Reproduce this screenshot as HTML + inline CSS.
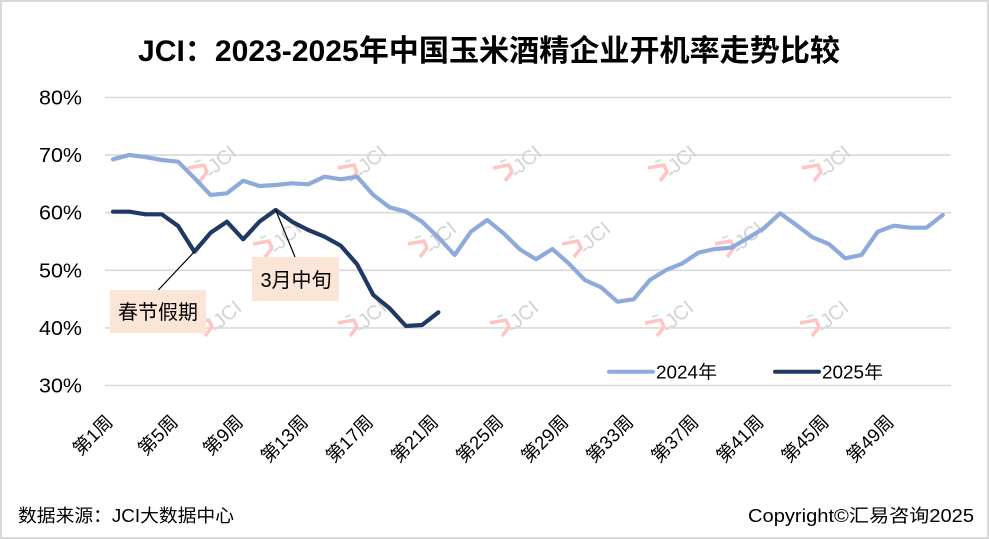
<!DOCTYPE html>
<html>
<head>
<meta charset="utf-8">
<style>
  html, body { margin: 0; padding: 0; background: #fff; }
  svg { display: block; }
  text { font-family: "Liberation Sans", "Noto Sans CJK SC", sans-serif; }
</style>
</head>
<body>
<svg width="989" height="539" viewBox="0 0 989 539" xmlns="http://www.w3.org/2000/svg">
  <rect x="0" y="0" width="989" height="539" fill="#ffffff"/>
  <rect x="1" y="1" width="987" height="537" fill="none" stroke="#d9d9d9" stroke-width="2"/>

  <!-- Title -->
  <text x="138" y="61" font-size="30" font-weight="bold" fill="#000" textLength="702" lengthAdjust="spacingAndGlyphs">JCI：2023-2025年中国玉米酒精企业开机率走势比较</text>

  <!-- Gridlines -->
  <g stroke="#d9d9d9" stroke-width="1.6">
    <line x1="105" y1="97.5" x2="951" y2="97.5"/>
    <line x1="105" y1="155.1" x2="951" y2="155.1"/>
    <line x1="105" y1="212.7" x2="951" y2="212.7"/>
    <line x1="105" y1="270.3" x2="951" y2="270.3"/>
    <line x1="105" y1="327.9" x2="951" y2="327.9"/>
    <line x1="105" y1="385.5" x2="951" y2="385.5"/>
  </g>

  <!-- Y labels -->
  <g font-size="20" fill="#000" text-anchor="end">
    <text x="82" y="104.5" textLength="43" lengthAdjust="spacingAndGlyphs">80%</text>
    <text x="82" y="162.1" textLength="43" lengthAdjust="spacingAndGlyphs">70%</text>
    <text x="82" y="219.7" textLength="43" lengthAdjust="spacingAndGlyphs">60%</text>
    <text x="82" y="277.3" textLength="43" lengthAdjust="spacingAndGlyphs">50%</text>
    <text x="82" y="334.9" textLength="43" lengthAdjust="spacingAndGlyphs">40%</text>
    <text x="82" y="392.5" textLength="43" lengthAdjust="spacingAndGlyphs">30%</text>
  </g>

  <!-- Watermarks -->
  <defs>
    <g id="wm">
      <path d="M0,6 L16,3 L19,10 L12,19" stroke="#ffc4c4" stroke-width="3.5" fill="none" stroke-linejoin="round"/>
      <line x1="7" y1="0" x2="13" y2="-2" stroke="#c8ead5" stroke-width="2"/>
      <line x1="21" y1="13" x2="25" y2="10" stroke="#d6d6d6" stroke-width="2"/>
      <text transform="translate(27,12) rotate(-40)" font-size="20" fill="#d3d3d3">JCI</text>
    </g>
  </defs>
  <g>
    <use href="#wm" x="188" y="162"/>
    <use href="#wm" x="338" y="162"/>
    <use href="#wm" x="493" y="162"/>
    <use href="#wm" x="648" y="162"/>
    <use href="#wm" x="802" y="162"/>
    <use href="#wm" x="253" y="238"/>
    <use href="#wm" x="408" y="238"/>
    <use href="#wm" x="562" y="238"/>
    <use href="#wm" x="715" y="238"/>
    <use href="#wm" x="193" y="317"/>
    <use href="#wm" x="338" y="317"/>
    <use href="#wm" x="490" y="317"/>
    <use href="#wm" x="645" y="317"/>
    <use href="#wm" x="800" y="317"/>
  </g>

  <!-- 2024 series -->
  <polyline fill="none" stroke="#8eaadb" stroke-width="4.2" stroke-linejoin="round" stroke-linecap="round"
    points="113,159.3 129.3,155 145.5,157 161.8,160 178.1,161.7 194.4,178 210.6,195 226.9,193.3 243.2,180.7 259.4,186 275.7,185 292,183.3 308.2,184.3 324.5,176.7 340.8,179.3 357.1,176.7 373.3,195 389.6,207.3 405.9,211.7 422.1,221.7 438.4,237.5 454.7,255 470.9,231.7 487.2,220 503.5,233.3 519.8,249.3 536,259.3 552.3,249 568.6,263.3 584.8,280 601.1,287.3 617.4,301.7 633.6,299.3 649.9,280 666.2,270 682.5,263.3 698.7,252.5 715,249 731.3,247.7 747.5,238.3 763.8,228.3 780.1,213.3 796.3,225 812.6,237.3 828.9,244 845.2,258.3 861.4,255 877.7,231.7 894,225.7 910.2,227.7 926.5,227.7 942.8,215"/>

  <!-- 2025 series -->
  <polyline fill="none" stroke="#203864" stroke-width="4.2" stroke-linejoin="round" stroke-linecap="round"
    points="113,211.7 129.3,211.7 145.5,214.3 161.8,214.3 178.1,226 194.4,251.7 210.6,232.7 226.9,221.7 243.2,239.3 259.4,221.7 275.7,210 292,221.7 308.2,230 324.5,236.7 340.8,245.7 357.1,264.3 373.3,295 389.6,308.3 405.9,326 422.1,325 438.4,312.3"/>

  <!-- Annotations -->
  <line x1="158.3" y1="290" x2="194.4" y2="251.7" stroke="#000" stroke-width="1.2"/>
  <line x1="295" y1="257" x2="275.7" y2="210" stroke="#000" stroke-width="1.2"/>
  <rect x="110" y="290" width="96" height="43" fill="#fbe5d6"/>
  <text x="158" y="319" font-size="20" fill="#000" text-anchor="middle">春节假期</text>
  <rect x="252" y="257" width="87" height="44" fill="#fbe5d6"/>
  <text x="296" y="287" font-size="20" fill="#000" text-anchor="middle">3月中旬</text>

  <!-- Legend -->
  <line x1="609" y1="371.7" x2="653" y2="371.7" stroke="#8eaadb" stroke-width="4" stroke-linecap="round"/>
  <text x="656" y="378.5" font-size="18" fill="#000" textLength="61" lengthAdjust="spacingAndGlyphs">2024年</text>
  <line x1="775" y1="371.7" x2="819" y2="371.7" stroke="#203864" stroke-width="4" stroke-linecap="round"/>
  <text x="822" y="378.5" font-size="18" fill="#000" textLength="61" lengthAdjust="spacingAndGlyphs">2025年</text>

  <!-- X labels -->
  <g font-size="18.5" fill="#000" text-anchor="end">
    <text transform="translate(114,423) rotate(-45)">第1周</text>
    <text transform="translate(179.1,423) rotate(-45)">第5周</text>
    <text transform="translate(244.2,423) rotate(-45)">第9周</text>
    <text transform="translate(309.2,423) rotate(-45)">第13周</text>
    <text transform="translate(374.3,423) rotate(-45)">第17周</text>
    <text transform="translate(439.4,423) rotate(-45)">第21周</text>
    <text transform="translate(504.5,423) rotate(-45)">第25周</text>
    <text transform="translate(569.6,423) rotate(-45)">第29周</text>
    <text transform="translate(634.6,423) rotate(-45)">第33周</text>
    <text transform="translate(699.7,423) rotate(-45)">第37周</text>
    <text transform="translate(764.8,423) rotate(-45)">第41周</text>
    <text transform="translate(829.9,423) rotate(-45)">第45周</text>
    <text transform="translate(895,423) rotate(-45)">第49周</text>
  </g>

  <!-- Footer -->
  <text x="18" y="522" font-size="18" fill="#000" textLength="216" lengthAdjust="spacingAndGlyphs">数据来源：JCI大数据中心</text>
  <text x="748" y="522" font-size="18" fill="#000" textLength="226" lengthAdjust="spacingAndGlyphs">Copyright©汇易咨询2025</text>
</svg>
</body>
</html>
